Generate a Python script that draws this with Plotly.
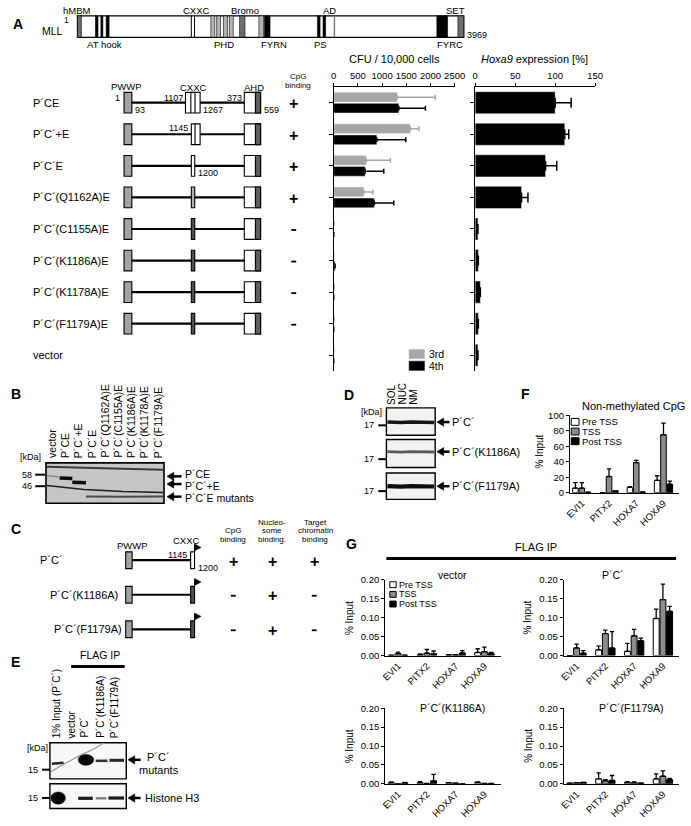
import plotly.graph_objects as go

# ---------------- data ----------------
constructs = ["P´CE", "P´C´+E", "P´C´E", "P´C´(Q1162A)E", "P´C´(C1155A)E",
              "P´C´(K1186A)E", "P´C´(K1178A)E", "P´C´(F1179A)E", "vector"]
cpg_binding = ["+", "+", "+", "+", "-", "-", "-", "-"]
cfu_3rd = [1310, 1580, 670, 620, 6, 0, 8, 5, 0]
cfu_3rd_err = [790, 180, 500, 190, 0, 0, 0, 0, 0]
cfu_4th = [1345, 890, 650, 840, 0, 28, 0, 0, 0]
cfu_4th_err = [550, 600, 385, 400, 0, 0, 0, 0, 0]
cfu_ticks = [0, 500, 1000, 1500, 2000, 2500]
hoxa9 = [100, 112, 88, 58, 3.5, 4, 6.5, 4, 3.5]
hoxa9_err = [20, 5, 14, 8, 0, 0, 0, 0, 0]
hoxa9_ticks = [0, 50, 100, 150]

genes = ["EVI1", "PITX2", "HOXA7", "HOXA9"]
F_pre = [6, 0, 7, 16];     F_pre_err = [7, 0, 1, 6]
F_tss = [6, 21, 39, 75];   F_tss_err = [7, 10, 3, 15]
F_post = [0.6, 2.5, 1, 11]; F_post_err = [0, 0, 0, 4]

G_vec_pre = [0.001, 0.002, 0.002, 0.008];  G_vec_pre_err = [0, 0.002, 0, 0.010]
G_vec_tss = [0.005, 0.006, 0.002, 0.010];  G_vec_tss_err = [0.004, 0.010, 0, 0.012]
G_vec_post = [0.001, 0.005, 0.007, 0.006]; G_vec_post_err = [0, 0.007, 0.006, 0.002]
G_pc_pre = [0, 0.015, 0.011, 0.098];       G_pc_pre_err = [0, 0.010, 0.021, 0.025]
G_pc_tss = [0.020, 0.058, 0.052, 0.148];   G_pc_tss_err = [0.010, 0.009, 0.017, 0.041]
G_pc_post = [0.006, 0.020, 0.039, 0.117];  G_pc_post_err = [0.007, 0.043, 0.007, 0.013]
G_k_pre = [0.003, 0.003, 0.003, 0.004];    G_k_pre_err = [0.002, 0.003, 0, 0.001]
G_k_tss = [0, 0.001, 0.002, 0.001];        G_k_tss_err = [0, 0, 0, 0]
G_k_post = [0.003, 0.008, 0, 0.001];       G_k_post_err = [0.001, 0.017, 0, 0]
G_f_pre = [0.002, 0.013, 0.004, 0.013];    G_f_pre_err = [0, 0.016, 0.002, 0.013]
G_f_tss = [0.003, 0.008, 0.003, 0.020];    G_f_tss_err = [0, 0.003, 0.002, 0.014]
G_f_post = [0.004, 0.009, 0.002, 0.011];   G_f_post_err = [0, 0.013, 0, 0.003]
G_titles = ["vector", "P´C´", "P´C´(K1186A)", "P´C´(F1179A)"]
G_ticks = [0, 0.05, 0.10, 0.15, 0.20]

lanes_B = ["vector", "P´CE", "P´C´+E", "P´C´E", "P´C´(Q1162A)E", "P´C´(C1155A)E",
           "P´C´(K1186A)E", "P´C´(K1178A)E", "P´C´(F1179A)E"]
lanes_D = ["SOL", "NUC", "NM"]
lanes_E = ["1% Input (P´C´)", "vector", "P´C´", "P´C´(K1186A)", "P´C´(F1179A)"]
constructs_C = ["P´C´", "P´C´(K1186A)", "P´C´(F1179A)"]
C_cpg = ["+", "-", "-"]
C_nuc = ["+", "+", "+"]
C_target = ["+", "-", "-"]

# ---------------- helpers (pixel -> paper) ----------------
W, H = 691, 826
def X(p): return p / W
def Y(p): return 1 - p / H

shapes, ann = [], []
def rect(x0, y0, x1, y1, fill='white', lc='black', lw=1.0):
    shapes.append(dict(type='rect', xref='paper', yref='paper', x0=X(x0), x1=X(x1),
                       y0=Y(y1), y1=Y(y0), fillcolor=fill,
                       line=dict(color=lc, width=lw), layer='above'))
def seg(x0, y0, x1, y1, c='black', w=1.0):
    shapes.append(dict(type='line', xref='paper', yref='paper', x0=X(x0), x1=X(x1),
                       y0=Y(y0), y1=Y(y1), line=dict(color=c, width=w), layer='above'))
def ell(x0, y0, x1, y1, c='black'):
    shapes.append(dict(type='circle', xref='paper', yref='paper', x0=X(x0), x1=X(x1),
                       y0=Y(y1), y1=Y(y0), fillcolor=c, line=dict(color=c, width=0.5),
                       layer='above'))
def poly(pts, fill='black', lc='black', lw=0.5, closed=True):
    path = 'M ' + ' L '.join(f'{X(a):.5f},{Y(b):.5f}' for a, b in pts) + (' Z' if closed else '')
    shapes.append(dict(type='path', xref='paper', yref='paper', path=path,
                       fillcolor=fill if closed else 'rgba(0,0,0,0)',
                       line=dict(color=lc, width=lw), layer='above'))
def txt(x, y, s, size=9, xa='center', ya='middle', angle=0, bold=False, color='black'):
    if bold:
        s = f'<b>{s}</b>'
    ann.append(dict(x=X(x), y=Y(y), xref='paper', yref='paper', text=s, showarrow=False,
                    xanchor=xa, yanchor=ya, textangle=angle, borderpad=0,
                    font=dict(size=size, color=color)))
def arrow(xt, y, length=15):
    seg(xt + 5, y, xt + length, y, 'black', 2.5)
    poly([(xt, y), (xt + 7, y - 4.2), (xt + 7, y + 4.2)])
def sign(x, y, s):
    if s == '+':
        txt(x, y, '<b>+</b>', 16)
    else:
        seg(x - 2.5, y, x + 2.5, y, 'black', 1.8)

fig = go.Figure()

# ---------------- Panel A: MLL scheme ----------------
txt(12, 18, 'A', 14, bold=True)
txt(59, 25, 'MLL', 10.5, xa='right')
rect(73.3, 10, 469.3, 31.7, 'white', 'black', 1.3)
for a, b, c in [(73.3, 77.3, '#6e6e6e'), (91.7, 94.3, 'black'), (97.3, 99.3, 'black'),
                (102.7, 105.7, 'black'), (210, 214, '#b4b4b4'), (216, 220, '#b4b4b4'),
                (223, 227, '#b4b4b4'), (229, 233, '#b4b4b4'), (239.5, 245, '#6e6e6e'),
                (259.3, 264, '#b4b4b4'), (265, 270.7, 'black'), (319.3, 322, 'black'),
                (325, 327.7, 'black'), (441.7, 452.7, 'black'), (463.3, 469.3, '#6e6e6e')]:
    rect(a, 10, b, 31.7, c, 'black', 0.6)
seg(190, 10, 190, 31.7, 'black', 1)
seg(193.3, 10, 193.3, 31.7, 'black', 1)
seg(336.7, 10, 336.7, 31.7, '#7a7a7a', 1.5)
for s, x in [('hMBM', 72.5), ('CXXC', 195), ('Bromo', 245), ('AD', 332), ('SET', 461)]:
    txt(x, 5, s, 9.5)
txt(66, 14, '1', 8.5, xa='right')
txt(472, 29, '3969', 9, xa='left')
for s, x in [('AT hook', 101), ('PHD', 223), ('FYRN', 275), ('PS', 322), ('FYRC', 455)]:
    txt(x, 39.5, s, 9.5)

# ---------------- Panel A: construct schemes ----------------
y_top, y_bot = 82, 370
n = len(constructs)
rowy = [y_top + (i + 0.5) * (y_bot - y_top) / n for i in range(n)]
txt(124, 82, 'PWWP', 9.5)
txt(192, 83, 'CXXC', 9.5)
txt(254, 83, 'AHD', 9.5)
txt(299, 71.5, 'CpG', 8)
txt(299, 80.5, 'binding', 8)
for i, name in enumerate(constructs):
    yc = rowy[i]
    txt(27, yc, name, 11, xa='left')
    if i >= 8:
        continue
    h = 10.5
    rect(121, yc - h, 129, yc + h, '#a3a3a3', 'black', 1.1)
    if i == 0:
        cx0, cx1 = 184, 199
    elif i == 1:
        cx0, cx1 = 190, 199
    else:
        cx0, cx1 = 190, 193.5
    seg(129, yc, cx0, yc, 'black', 2.2)
    seg(cx1, yc, 244.3, yc, 'black', 2.2)
    fillc = 'white' if i <= 2 else ('#b0b0b0' if i == 3 else '#505050')
    rect(cx0, yc - h, cx1, yc + h, fillc, 'black', 1.1)
    if i == 0:
        seg(189.5, yc - h, 189.5, yc + h, 'black', 1.1)
        seg(193.8, yc - h, 193.8, yc + h, 'black', 1.1)
    if i == 1:
        seg(193.8, yc - h, 193.8, yc + h, 'black', 1.1)
    rect(244.3, yc - h, 261, yc + h, 'white', 'black', 1.1)
    rect(255.7, yc - h, 261, yc + h, '#5e5e5e', 'black', 1.1)
    sign(295, yc + 1, cpg_binding[i])
y0 = rowy[0]
txt(118, y0 - 5, '1', 9, xa='right')
txt(131, y0 + 7, '93', 9, xa='left')
txt(182, y0 - 5, '1107', 9, xa='right')
txt(201, y0 + 7, '1267', 9, xa='left')
txt(243, y0 - 5, '373', 9, xa='right')
txt(263, y0 + 7, '559', 9, xa='left')
txt(188, rowy[1] - 6, '1145', 9, xa='right')
txt(196, rowy[2] + 7, '1200', 9, xa='left')

# ---------------- CFU and Hoxa9 bar charts ----------------
def nz(a):
    return [v if v else None for v in a]

fig.add_trace(go.Bar(y=constructs, x=cfu_3rd, orientation='h', marker_color='#a6a6a6',
                     error_x=dict(type='data', array=nz(cfu_3rd_err), arrayminus=[0] * n,
                                  symmetric=False, color='#a6a6a6', thickness=1.5, width=2.5),
                     xaxis='x', yaxis='y'))
fig.add_trace(go.Bar(y=constructs, x=cfu_4th, orientation='h', marker_color='black',
                     error_x=dict(type='data', array=nz(cfu_4th_err), arrayminus=[0] * n,
                                  symmetric=False, color='black', thickness=1.5, width=2.5),
                     xaxis='x', yaxis='y'))
fig.add_trace(go.Bar(y=constructs, x=hoxa9, orientation='h', marker_color='black', width=0.7,
                     error_x=dict(type='data', array=nz(hoxa9_err), arrayminus=[0] * n,
                                  symmetric=False, color='black', thickness=1.5, width=5),
                     xaxis='x2', yaxis='y2'))
txt(398, 54, 'CFU / 10,000 cells', 11)
txt(542, 54, '<i>Hoxa9</i> expression [%]', 11)
# legend 3rd / 4th
rect(413.3, 348.3, 429, 357.3, '#a6a6a6', '#a6a6a6', 0.5)
rect(413.3, 360, 429, 369.3, 'black', 'black', 0.5)
txt(433, 353, '3rd', 10.5, xa='left')
txt(433, 365, '4th', 10.5, xa='left')

# ---------------- Panel B: western blot ----------------
txt(10, 393, 'B', 14, bold=True)
bx0, bx1 = 41, 162
lw_ = (bx1 - bx0) / len(lanes_B)
for i, s in enumerate(lanes_B):
    txt(bx0 + (i + 0.5) * lw_, 459, s, 10.5, ya='bottom', angle=-90)
rect(bx0, 463, bx1, 504, '#c6c6c6', 'black', 1.6)
poly([(42, 467), (100, 468.5), (161, 470)], lc='#3a3a3a', lw=2, closed=False)
seg(42, 476, 54, 477, '#8a8a8a', 1.5)
seg(55, 478.3, 68, 478.8, '#0d0d0d', 3.5)
seg(68, 482.8, 82, 483.3, '#0d0d0d', 3.5)
poly([(42, 486), (80, 490), (120, 492), (161, 493)], lc='#1e1e1e', lw=1.5, closed=False)
poly([(82, 497), (120, 497.5), (161, 497)], lc='#4a4a4a', lw=2, closed=False)
txt(37, 457, '[kDa]', 9, xa='right')
txt(28, 475, '58', 9, xa='right')
seg(30, 475, 40, 475, 'black', 2)
txt(28, 486.7, '46', 9, xa='right')
seg(30, 486.7, 40, 486.7, 'black', 2)
arrow(165, 476.7)
arrow(165, 484.5)
arrow(165, 497.3)
txt(182, 474.5, 'P´CE', 10.5, xa='left')
txt(182, 486.5, 'P´C´+E', 10.5, xa='left')
txt(182, 498.5, 'P´C´E mutants', 10.5, xa='left')

# ---------------- Panel C ----------------
txt(10, 530, 'C', 14, bold=True)
txt(130, 547, 'PWWP', 9.5)
txt(185, 542, 'CXXC', 9.5)
txt(233, 532, 'CpG', 8); txt(233, 540.5, 'binding', 8)
txt(273, 523.5, 'Nucleo-', 8); txt(273, 532, 'some', 8); txt(273, 540.5, 'binding.', 8)
txt(317, 523.5, 'Target', 8); txt(317, 532, 'chromatin', 8); txt(317, 540.5, 'binding', 8)
rowC = [561.7, 596.7, 631.7]
lblx = [34, 44, 48]
for i, name in enumerate(constructs_C):
    yc = rowC[i]
    h = 8.5
    txt(lblx[i], yc, name, 11, xa='left')
    rect(122.7, yc - h, 129.3, yc + h, '#a3a3a3', 'black', 1.1)
    seg(129.3, yc, 189.3, yc, 'black', 2.2)
    rect(189.3, yc - h, 193.3, yc + h, 'white' if i == 0 else '#505050', 'black', 1.1)
    seg(193.3, yc - h, 193.3, yc - h - 7, 'black', 1)
    poly([(193.3, yc - h - 8), (200, yc - h - 4.5), (193.3, yc - h - 1)])
    sign(233, yc + 1, C_cpg[i])
    sign(273, yc + 1, C_nuc[i])
    sign(316, yc + 1, C_target[i])
txt(187, rowC[0] - 5, '1145', 9, xa='right')
txt(196, rowC[0] + 8, '1200', 9, xa='left')

# ---------------- Panel D ----------------
txt(352, 394, 'D', 14, bold=True)
for s, x in zip(lanes_D, [395, 407, 417.5]):
    txt(x, 405, s, 10, ya='bottom', angle=-90)
txt(387, 411.7, '[kDa]', 9, xa='right')
for (ya, yb), yband, ytick, col, wd in [((407.3, 435), 421.7, 425, '#161616', 3.5),
                                       ((439.3, 467.7), 451.7, 459.3, '#5a5a5a', 2.8),
                                       ((473.3, 500), 486.7, 491.7, '#0d0d0d', 4.2)]:
    rect(390, ya, 440, yb, '#f2f2f2', 'black', 1.4)
    poly([(391, yband), (405, yband + 0.5), (415, yband), (439, yband + 0.3)],
         lc=col, lw=wd, closed=False)
    txt(378, ytick, '17', 9, xa='right')
    seg(381.7, ytick, 390, ytick, 'black', 2)
    arrow(441.7, yband, 13)
txt(456, 421.7, 'P´C´', 11, xa='left')
txt(456, 451.7, 'P´C´(K1186A)', 11, xa='left')
txt(456, 486.7, 'P´C´(F1179A)', 11, xa='left')

# ---------------- Panel E ----------------
txt(10, 665, 'E', 14, bold=True)
txt(96.7, 658, 'FLAG IP', 10.5)
seg(66.7, 669.3, 121.7, 669.3, 'black', 3)
for s, x in zip(lanes_E, [52, 67, 81, 96, 111]):
    txt(x, 743, s, 10, ya='bottom', angle=-90)
rect(45, 746.7, 123.3, 783.3, '#f7f7f7', 'black', 1.4)
poly([(46, 776), (60, 768), (75, 760), (92, 752), (100, 747)], lc='#9a9a9a', lw=1.2, closed=False)
seg(47, 768, 59, 767, '#2a2a2a', 2.5)
ell(74, 758.5, 90, 769.5, '#050505')
seg(92, 765, 104, 765, '#303030', 2.5)
seg(106, 764.5, 121, 764.5, '#252525', 3)
rect(45, 788.3, 123.3, 813.3, '#f7f7f7', 'black', 1.4)
ell(46, 796.5, 61, 809, '#050505')
seg(74, 803, 89, 803, '#1a1a1a', 3.2)
seg(92, 803, 103, 803, '#777777', 2.2)
seg(105, 802.7, 121, 802.7, '#1a1a1a', 3.2)
txt(44, 751.7, '[kDa]', 9, xa='right')
txt(34, 774, '15', 9, xa='right'); seg(37, 774, 45, 774, 'black', 2)
txt(34, 802.7, '15', 9, xa='right'); seg(37, 802.7, 45, 802.7, 'black', 2)
arrow(125, 764, 13)
arrow(125, 802.7, 13)
txt(156.7, 761.5, 'P´C´', 11)
txt(156.7, 774, 'mutants', 11)
txt(141, 802.7, 'Histone H3', 11, xa='left')

# ---------------- Panel F & G bar charts ----------------
def add_tss(xa, ya, pre, pre_e, tss, tss_e, post, post_e):
    for vals, errs, fill in [(pre, pre_e, 'white'), (tss, tss_e, '#8c8c8c'), (post, post_e, 'black')]:
        fig.add_trace(go.Bar(x=genes, y=vals, marker=dict(color=fill, line=dict(color='black', width=1)),
                             error_y=dict(type='data', array=nz(errs), arrayminus=[0] * 4,
                                          symmetric=False, color='black', thickness=1.3, width=2.2),
                             xaxis=xa, yaxis=ya))

add_tss('x3', 'y3', F_pre, F_pre_err, F_tss, F_tss_err, F_post, F_post_err)
add_tss('x4', 'y4', G_vec_pre, G_vec_pre_err, G_vec_tss, G_vec_tss_err, G_vec_post, G_vec_post_err)
add_tss('x5', 'y5', G_pc_pre, G_pc_pre_err, G_pc_tss, G_pc_tss_err, G_pc_post, G_pc_post_err)
add_tss('x6', 'y6', G_k_pre, G_k_pre_err, G_k_tss, G_k_tss_err, G_k_post, G_k_post_err)
add_tss('x7', 'y7', G_f_pre, G_f_pre_err, G_f_tss, G_f_tss_err, G_f_post, G_f_post_err)

txt(533, 393, 'F', 14, bold=True)
txt(643, 405, 'Non-methylated CpG', 11)
txt(547, 452, '% Input', 10, angle=-90)
for yy, s, c in [(421.5, 'Pre TSS', 'white'), (431.3, 'TSS', '#8c8c8c'), (441.1, 'Post TSS', 'black')]:
    rect(579.5, yy - 3.5, 587.5, yy + 3.5, c, 'black', 1)
    txt(590, yy, s, 9.5, xa='left')

txt(354, 545, 'G', 14, bold=True)
txt(543, 548, 'FLAG IP', 11)
seg(390, 560, 687, 560, 'black', 3)
G_dom = [((389, 507), (581.7, 658.3)), ((572, 690), (581.7, 658.3)),
         ((389, 507), (711.7, 788.3)), ((572, 690), (711.7, 788.3))]
for k, ((xa0, xa1), (ya0, ya1)) in enumerate(G_dom):
    txt((xa0 + xa1) / 2 + 10 if k != 1 else 622, ya0 - 5 if k < 2 else ya0, G_titles[k], 10.5)
    txt(xa0 - 37, (ya0 + ya1) / 2, '% Input', 10, angle=-90)
for yy, s, c in [(586.5, 'Pre TSS', 'white'), (596.3, 'TSS', '#8c8c8c'), (606.1, 'Post TSS', 'black')]:
    rect(393.5, yy - 3, 400, yy + 3, c, 'black', 1)
    txt(402, yy, s, 9, xa='left')

# ---------------- layout / axes ----------------
axfont = dict(size=9.5, color='black')
base_ax = dict(showline=True, linecolor='black', linewidth=1.4, showgrid=False, zeroline=False,
               ticks='outside', tickcolor='black', ticklen=3, tickwidth=1, tickfont=axfont)
layout = dict(width=W, height=H, margin=dict(l=0, r=0, t=0, b=0), paper_bgcolor='white',
              plot_bgcolor='rgba(0,0,0,0)', barmode='group', bargap=0.3, bargroupgap=0.12,
              showlegend=False, font=dict(family='Liberation Sans, Arial, sans-serif', size=9, color='black'),
              shapes=shapes, annotations=ann)
layout['xaxis'] = dict(base_ax, domain=[X(336), X(460)], range=[0, 2500], side='top', anchor='y',
                       tickvals=cfu_ticks, ticklen=3)
layout['yaxis'] = dict(base_ax, domain=[Y(y_bot), Y(y_top)], type='category', categoryarray=constructs,
                       range=[n - 0.5, -0.5], showticklabels=False, anchor='x', ticklen=4)
layout['xaxis2'] = dict(base_ax, domain=[X(481), X(604)], range=[0, 150], side='top', anchor='y2',
                        tickvals=hoxa9_ticks)
layout['yaxis2'] = dict(base_ax, domain=[Y(y_bot), Y(y_top)], type='category', categoryarray=constructs,
                        range=[n - 0.5, -0.5], showticklabels=False, anchor='x2', ticklen=4)
layout['xaxis3'] = dict(base_ax, domain=[X(578.3), X(690)], type='category', categoryarray=genes,
                        range=[-0.43, 3.57], anchor='y3', ticks='', tickangle=-45,
                        tickfont=dict(size=9.5, color='black'))
layout['yaxis3'] = dict(base_ax, domain=[Y(493.3), Y(415)], range=[0, 100], anchor='x3',
                        tickvals=[0, 20, 40, 60, 80, 100], tickfont=dict(size=9.5, color='black'))
for k, ((xa0, xa1), (ya0, ya1)) in enumerate(G_dom):
    i = k + 4
    layout[f'xaxis{i}'] = dict(base_ax, domain=[X(xa0), X(xa1)], type='category', categoryarray=genes,
                               range=[-0.44, 3.56], anchor=f'y{i}', ticks='', tickangle=-45,
                               tickfont=dict(size=9.5, color='black'))
    layout[f'yaxis{i}'] = dict(base_ax, domain=[Y(ya1), Y(ya0)], range=[0, 0.2], anchor=f'x{i}',
                               tickvals=G_ticks, ticktext=[f'{v:.2f}' for v in G_ticks],
                               tickfont=dict(size=9.5, color='black'))
fig.update_layout(**layout)

fig.write_html("out.html", config={'displayModeBar': False},
               post_script="document.body.style.margin='0';document.body.style.overflow='hidden';")
